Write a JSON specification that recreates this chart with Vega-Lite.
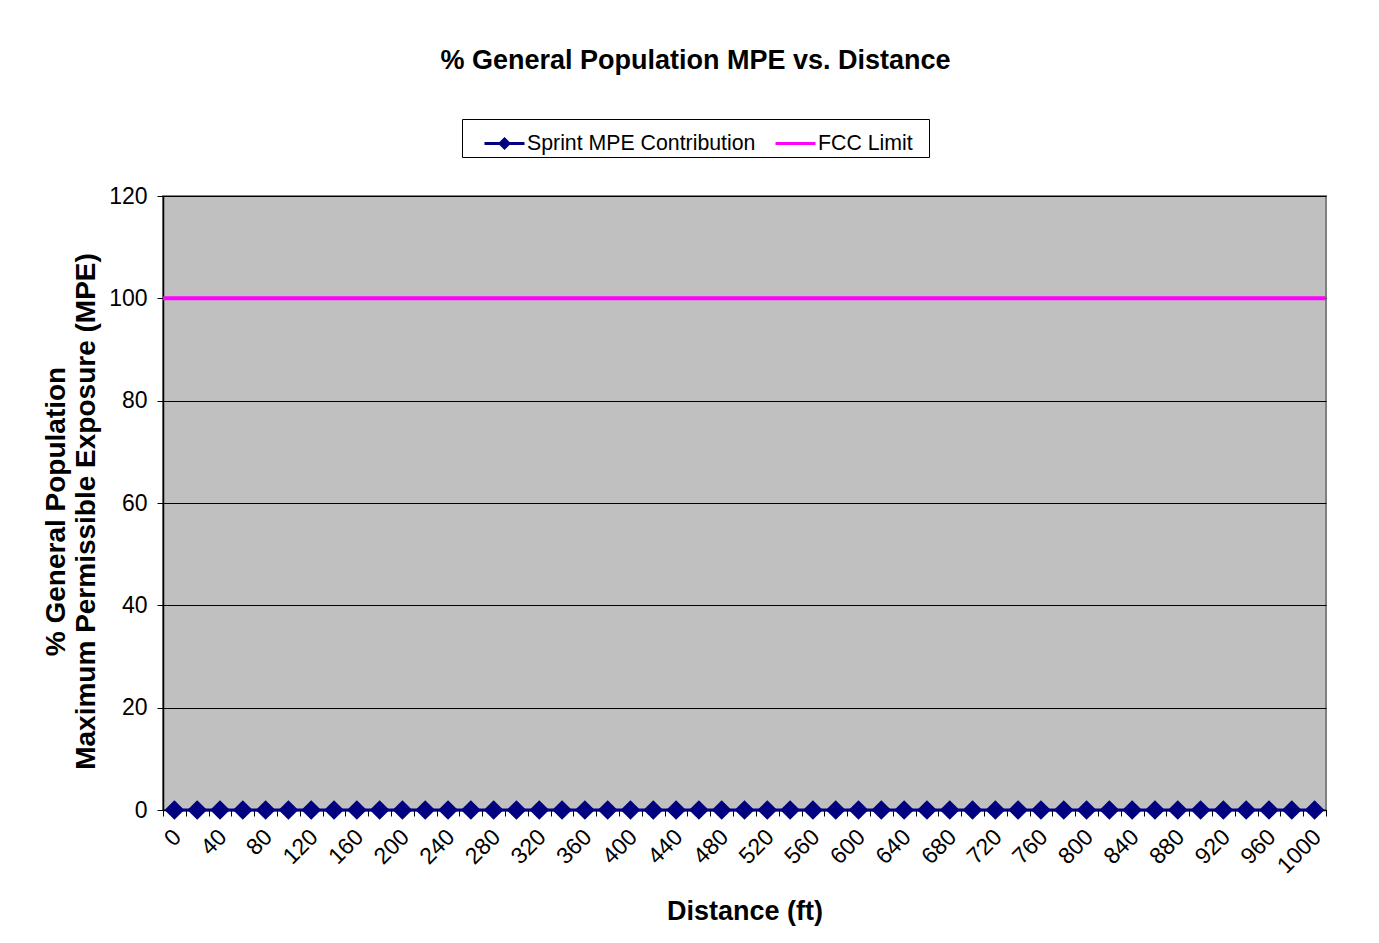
{
  "$schema": "https://vega.github.io/schema/vega-lite/v6.json",
  "width": 1163,
  "height": 614,
  "padding": {"left": 42, "top": 46, "right": 40, "bottom": 10},
  "background": "white",
  "title": {
    "text": "% General Population MPE vs. Distance",
    "font": "Liberation Sans",
    "fontSize": 27,
    "fontWeight": "bold",
    "color": "black",
    "anchor": "middle",
    "frame": "bounds",
    "offset": 44
  },
  "datasets": {
    "sprint": [
      {"distance": 0, "series": "Sprint MPE Contribution", "value": 0},
      {"distance": 20, "series": "Sprint MPE Contribution", "value": 0},
      {"distance": 40, "series": "Sprint MPE Contribution", "value": 0},
      {"distance": 60, "series": "Sprint MPE Contribution", "value": 0},
      {"distance": 80, "series": "Sprint MPE Contribution", "value": 0},
      {"distance": 100, "series": "Sprint MPE Contribution", "value": 0},
      {"distance": 120, "series": "Sprint MPE Contribution", "value": 0},
      {"distance": 140, "series": "Sprint MPE Contribution", "value": 0},
      {"distance": 160, "series": "Sprint MPE Contribution", "value": 0},
      {"distance": 180, "series": "Sprint MPE Contribution", "value": 0},
      {"distance": 200, "series": "Sprint MPE Contribution", "value": 0},
      {"distance": 220, "series": "Sprint MPE Contribution", "value": 0},
      {"distance": 240, "series": "Sprint MPE Contribution", "value": 0},
      {"distance": 260, "series": "Sprint MPE Contribution", "value": 0},
      {"distance": 280, "series": "Sprint MPE Contribution", "value": 0},
      {"distance": 300, "series": "Sprint MPE Contribution", "value": 0},
      {"distance": 320, "series": "Sprint MPE Contribution", "value": 0},
      {"distance": 340, "series": "Sprint MPE Contribution", "value": 0},
      {"distance": 360, "series": "Sprint MPE Contribution", "value": 0},
      {"distance": 380, "series": "Sprint MPE Contribution", "value": 0},
      {"distance": 400, "series": "Sprint MPE Contribution", "value": 0},
      {"distance": 420, "series": "Sprint MPE Contribution", "value": 0},
      {"distance": 440, "series": "Sprint MPE Contribution", "value": 0},
      {"distance": 460, "series": "Sprint MPE Contribution", "value": 0},
      {"distance": 480, "series": "Sprint MPE Contribution", "value": 0},
      {"distance": 500, "series": "Sprint MPE Contribution", "value": 0},
      {"distance": 520, "series": "Sprint MPE Contribution", "value": 0},
      {"distance": 540, "series": "Sprint MPE Contribution", "value": 0},
      {"distance": 560, "series": "Sprint MPE Contribution", "value": 0},
      {"distance": 580, "series": "Sprint MPE Contribution", "value": 0},
      {"distance": 600, "series": "Sprint MPE Contribution", "value": 0},
      {"distance": 620, "series": "Sprint MPE Contribution", "value": 0},
      {"distance": 640, "series": "Sprint MPE Contribution", "value": 0},
      {"distance": 660, "series": "Sprint MPE Contribution", "value": 0},
      {"distance": 680, "series": "Sprint MPE Contribution", "value": 0},
      {"distance": 700, "series": "Sprint MPE Contribution", "value": 0},
      {"distance": 720, "series": "Sprint MPE Contribution", "value": 0},
      {"distance": 740, "series": "Sprint MPE Contribution", "value": 0},
      {"distance": 760, "series": "Sprint MPE Contribution", "value": 0},
      {"distance": 780, "series": "Sprint MPE Contribution", "value": 0},
      {"distance": 800, "series": "Sprint MPE Contribution", "value": 0},
      {"distance": 820, "series": "Sprint MPE Contribution", "value": 0},
      {"distance": 840, "series": "Sprint MPE Contribution", "value": 0},
      {"distance": 860, "series": "Sprint MPE Contribution", "value": 0},
      {"distance": 880, "series": "Sprint MPE Contribution", "value": 0},
      {"distance": 900, "series": "Sprint MPE Contribution", "value": 0},
      {"distance": 920, "series": "Sprint MPE Contribution", "value": 0},
      {"distance": 940, "series": "Sprint MPE Contribution", "value": 0},
      {"distance": 960, "series": "Sprint MPE Contribution", "value": 0},
      {"distance": 980, "series": "Sprint MPE Contribution", "value": 0},
      {"distance": 1000, "series": "Sprint MPE Contribution", "value": 0}
    ],
    "fcc": [
      {"series": "FCC Limit", "value": 100}
    ]
  },
  "encoding": {
    "y": {
      "field": "value",
      "type": "quantitative",
      "scale": {"domain": [0, 120], "nice": false},
      "axis": {
        "title": ["% General Population", "Maximum Permissible Exposure (MPE)"],
        "values": [0, 20, 40, 60, 80, 100, 120],
        "grid": true,
        "gridColor": "black",
        "gridWidth": 1,
        "gridOpacity": 1,
        "labelFont": "Liberation Sans",
        "labelFontSize": 23,
        "labelColor": "black",
        "labelPadding": 10,
        "tickSize": 6,
        "tickColor": "black",
        "domainColor": "black",
        "domainWidth": 1.5,
        "titleFont": "Liberation Sans",
        "titleFontSize": 28,
        "titleFontWeight": "bold",
        "titleColor": "black",
        "titleLineHeight": 30,
        "titlePadding": 8,
        "titleY": 315
      }
    },
    "color": {
      "field": "series",
      "type": "nominal",
      "scale": {"domain": ["Sprint MPE Contribution", "FCC Limit"], "range": ["#000080", "#FF00FF"]},
      "legend": {
        "title": null,
        "orient": "none",
        "legendX": 299,
        "legendY": -77,
        "direction": "horizontal",
        "strokeColor": "black",
        "fillColor": "white",
        "padding": 3,
        "labelFont": "Liberation Sans",
        "labelFontSize": 21.3,
        "labelColor": "black",
        "labelLimit": 500,
        "labelOffset": 19,
        "columnPadding": -2,
        "symbolSize": 1600,
        "symbolStrokeWidth": 3,
        "symbolOpacity": 1,
        "encode": {
          "symbols": {
            "update": {
              "shape": {"signal": "datum.value == 'FCC Limit' ? 'M-0.1,0H1.9M7.1,0' : 'M-0.1,0H1.9M0.9,-0.22L1.12,0L0.9,0.22L0.68,0Z'"},
              "fill": {"signal": "scale('color', datum.value)"},
              "stroke": {"signal": "scale('color', datum.value)"}
            }
          }
        }
      }
    }
  },
  "layer": [
    {
      "data": {"name": "fcc"},
      "mark": {"type": "rule", "strokeWidth": 4},
      "encoding": {}
    },
    {
      "data": {"name": "sprint"},
      "encoding": {
        "x": {
          "field": "distance",
          "type": "quantitative",
          "scale": {"domain": [-10, 1010], "nice": false, "zero": false},
          "axis": {
            "title": "Distance (ft)",
            "values": [-10, 10, 30, 50, 70, 90, 110, 130, 150, 170, 190, 210, 230, 250, 270, 290, 310, 330, 350, 370, 390, 410, 430, 450, 470, 490, 510, 530, 550, 570, 590, 610, 630, 650, 670, 690, 710, 730, 750, 770, 790, 810, 830, 850, 870, 890, 910, 930, 950, 970, 990, 1010],
            "labelExpr": "(datum.value + 10) % 40 == 0 ? format(datum.value + 10, 'd') : ''",
            "labelOffset": 14,
            "labelAngle": -45,
            "labelAlign": "right",
            "labelBaseline": "middle",
            "labelOverlap": false,
            "labelFlush": false,
            "labelPadding": 17,
            "labelFont": "Liberation Sans",
            "labelFontSize": 23,
            "labelColor": "black",
            "tickSize": 6,
            "tickColor": "black",
            "domainColor": "black",
            "domainWidth": 1.5,
            "grid": false,
            "titleFont": "Liberation Sans",
            "titleFontSize": 27,
            "titleFontWeight": "bold",
            "titleColor": "black",
            "titlePadding": 21
          }
        }
      },
      "layer": [
        {"mark": {"type": "line", "strokeWidth": 3}},
        {"mark": {"type": "point", "shape": "diamond", "filled": true, "size": 390, "opacity": 1}}
      ]
    }
  ],
  "config": {
    "view": {"fill": "#C0C0C0", "stroke": "#808080", "strokeWidth": 2}
  }
}
